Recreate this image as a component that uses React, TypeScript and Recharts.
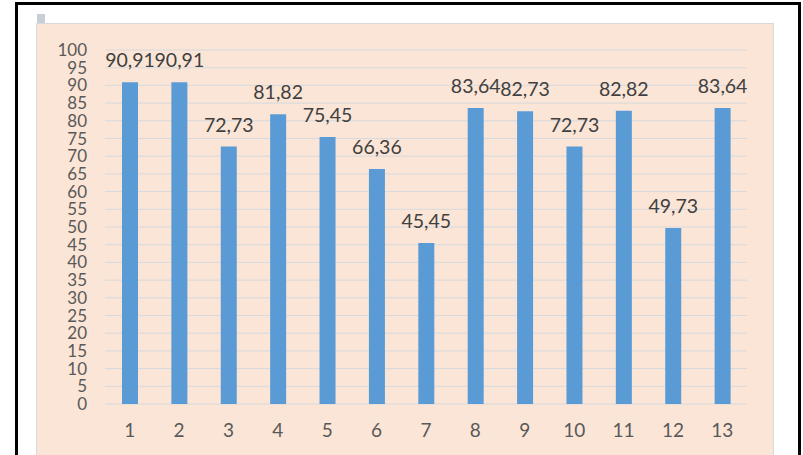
import { BarChart, Bar, XAxis, YAxis, CartesianGrid, LabelList } from 'recharts'

const categories = ['1', '2', '3', '4', '5', '6', '7', '8', '9', '10', '11', '12', '13']
const scores = [90.91, 90.91, 72.73, 81.82, 75.45, 66.36, 45.45, 83.64, 82.73, 72.73, 82.82, 49.73, 83.64]
const yTicks = [0, 5, 10, 15, 20, 25, 30, 35, 40, 45, 50, 55, 60, 65, 70, 75, 80, 85, 90, 95, 100]

const data = categories.map((c, i) => ({ name: c, value: scores[i] }))

const font = 'Lato, "Open Sans", sans-serif'

export default function App() {
  return (
    <div style={{ position: 'absolute', left: 0, top: 0, width: 803, height: 455, background: '#fff', overflow: 'hidden', fontFamily: font }}>
      {/* page border */}
      <div style={{ position: 'absolute', left: 15, top: 2, width: 780, height: 470, borderLeft: '3px solid #000', borderTop: '3px solid #000', borderRight: '3px solid #000' }} />
      {/* small anchor icon */}
      <div style={{ position: 'absolute', left: 37, top: 14, width: 8, height: 9, background: '#c9cfd8' }} />
      <div style={{ position: 'absolute', left: 36, top: 23, width: 736, height: 440, background: '#fbe5d6', border: '1px solid #d9d9d9', borderBottom: 'none' }}>
        <BarChart
          width={736}
          height={432}
          data={data}
          margin={{ top: 26, right: 26, left: 0, bottom: 0 }}
          barCategoryGap={0}
        >
          <CartesianGrid vertical={false} stroke="#d6d9de" strokeWidth={1} />
          <XAxis
            dataKey="name"
            height={52}
            tickLine={false}
            axisLine={false}
            tickSize={0}
            tickMargin={20}
            interval={0}
            tick={{ fontSize: 19, fill: '#595959', fontFamily: font }}
          />
          <YAxis
            width={68}
            domain={[0, 100]}
            ticks={yTicks}
            interval={0}
            tickLine={false}
            axisLine={false}
            tickSize={0}
            tickMargin={18}
            tick={{ fontSize: 17, fill: '#595959', fontFamily: font }}
          />
          <Bar dataKey="value" fill="#5b9bd5" barSize={16} isAnimationActive={false}>
            <LabelList
              dataKey="value"
              position="top"
              offset={15}
              formatter={(v: any) => Number(v).toFixed(2).replace('.', ',')}
              style={{ fontSize: 19.5, fill: '#404040', fontFamily: font }}
            />
          </Bar>
        </BarChart>
      </div>
    </div>
  )
}
